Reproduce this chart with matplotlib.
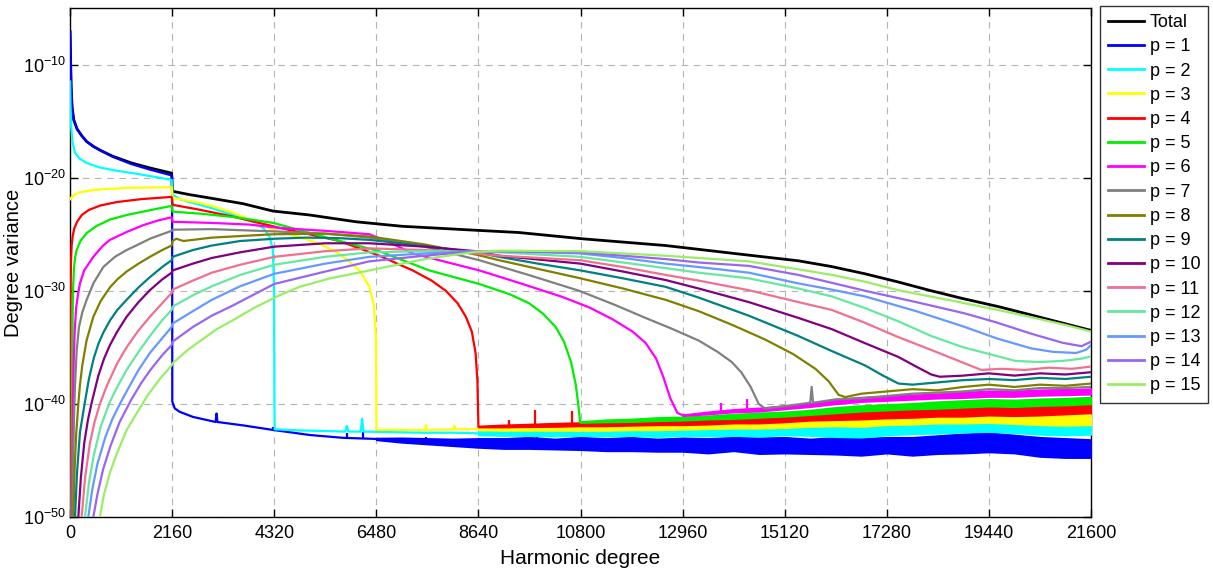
import matplotlib
matplotlib.use("Agg")
import matplotlib.pyplot as plt
import numpy as np
from matplotlib.ticker import FixedLocator, FixedFormatter, NullLocator

plt.rcParams['font.family'] = ['Liberation Sans', 'DejaVu Sans']
plt.rcParams['mathtext.fontset'] = 'custom'
plt.rcParams['mathtext.rm'] = 'Liberation Sans'
plt.rcParams['mathtext.it'] = 'Liberation Sans:italic'
plt.rcParams['mathtext.default'] = 'regular'

# ---------------------------------------------------------------------------
# Series labels and colours
LABELS = ['Total'] + ['p = %d' % k for k in range(1, 16)]
COLORS = ['#000000', '#0000ff', '#00ffff', '#ffff00', '#ff0000', '#00ee00',
          '#ff00ff', '#808080', '#808000', '#008080', '#800080', '#f07090',
          '#66e8a0', '#6699ff', '#9966ee', '#99ee66']

# Degree variance: harmonic degree and log10 of the variance
total_deg = [2, 10, 25, 45, 80, 150, 250, 350, 500, 650, 900, 1300, 1700, 2150,
             2165, 2530, 2960, 3660, 4290, 5070, 6050, 7030, 8590, 9500, 10830,
             12600, 14360, 15410, 16100, 16820, 17500, 18220, 18900, 19640, 20300,
             21040, 21600]
total_log = [-7.1, -9.0, -12.0, -13.8, -14.9, -15.7, -16.3, -16.8, -17.25, -17.6,
             -18.1, -18.7, -19.15, -19.6, -21.2, -21.5, -21.8, -22.3, -22.95, -23.3,
             -23.9, -24.3, -24.65, -24.85, -25.4, -26.0, -26.85, -27.35, -27.85,
             -28.5, -29.2, -30.0, -30.7, -31.4, -32.1, -32.9, -33.5]

p1_deg = [2, 10, 25, 45, 80, 150, 250, 350, 500, 650, 900, 1300, 1700, 2150, 2160,
          2164, 2217, 2320, 2600, 3080, 3100, 3120, 3660, 4290, 5070, 5770, 6480]
p1_log = [-7.1, -9.0, -12.0, -13.8, -14.9, -15.7, -16.3, -16.8, -17.25, -17.6,
          -18.15, -18.8, -19.3, -19.8, -19.9, -39.8, -40.4, -40.7, -41.15, -41.6,
          -40.85, -41.6, -41.9, -42.3, -42.75, -43.0, -43.1]

p2_deg = [2, 10, 25, 50, 105, 200, 350, 630, 1000, 1330, 1750, 2150, 2170, 2320,
          2700, 3000, 3300, 3660, 3900, 4100, 4220, 4290, 4315, 4325, 4330, 4900,
          5400, 5820, 5855, 5890, 6150, 6180, 6210, 6800, 7500, 8100, 8640]
p2_log = [-11.5, -13.5, -15.5, -16.8, -17.8, -18.3, -18.7, -19.1, -19.4, -19.6,
          -19.9, -20.2, -21.5, -21.9, -22.35, -22.7, -23.1, -23.55, -23.95, -24.5,
          -25.2, -26.3, -29.5, -40.0, -42.25, -42.35, -42.4, -42.45, -41.95, -42.45,
          -42.45, -41.3, -42.45, -42.5, -42.55, -42.55, -42.6]

p3_deg = [2, 40, 100, 200, 400, 600, 1200, 2150, 2170, 2600, 3000, 3450, 3900, 4300,
          4900, 5300, 5600, 5850, 6120, 6330, 6430, 6470, 6478, 6482, 7000, 7510,
          7530, 7550, 8110, 8130, 8150, 8640]
p3_log = [-21.9, -21.7, -21.5, -21.3, -21.15, -21.05, -20.9, -20.85, -21.8, -22.1,
          -22.5, -23.1, -23.9, -24.6, -25.3, -25.9, -26.5, -27.2, -28.2, -29.6,
          -31.3, -34.0, -38.0, -42.3, -42.3, -42.3, -41.9, -42.3, -42.25, -41.95,
          -42.25, -42.2]

p4_deg = [2, 5, 8, 11, 15, 22, 35, 55, 90, 150, 250, 400, 650, 1000, 1500, 2150,
          2170, 2700, 3400, 4000, 4400, 5000, 5700, 6545, 7250, 7650, 7950, 8200,
          8375, 8500, 8580, 8620, 8640]
p4_log = [-55.0, -45.0, -38.0, -32.0, -29.0, -27.3, -26.0, -25.2, -24.5, -23.9,
          -23.3, -22.85, -22.45, -22.15, -21.9, -21.7, -22.4, -22.8, -23.4, -24.0,
          -24.4, -24.95, -25.6, -26.9, -28.2, -29.1, -30.0, -31.1, -32.3, -33.6,
          -35.5, -38.0, -42.0]

p5_deg = [20, 30, 40, 48, 55, 65, 85, 110, 141, 220, 352, 550, 845, 1200, 1548,
          1900, 2150, 2170, 2800, 3500, 4300, 5000, 5700, 6545, 7600, 8660, 9300,
          9710, 10000, 10275, 10450, 10600, 10700, 10760, 10790]
p5_log = [-56.0, -50.0, -43.0, -37.0, -32.5, -29.8, -27.9, -27.0, -26.4, -25.6,
          -24.9, -24.3, -23.7, -23.3, -23.0, -22.7, -22.5, -23.0, -23.2, -23.5,
          -24.0, -24.8, -25.6, -26.5, -28.2, -29.4, -30.3, -31.1, -32.0, -33.2,
          -34.5, -36.3, -38.3, -40.3, -41.6]

p6_deg = [35, 45, 55, 65, 80, 100, 130, 170, 211, 300, 493, 700, 845, 1200, 1548,
          1850, 2150, 2170, 3000, 3800, 4434, 5400, 6334, 6800, 7250, 8000, 8660,
          9500, 10420, 11000, 11470, 11900, 12176, 12400, 12550, 12700, 12850,
          12960]
p6_log = [-56.0, -48.0, -43.0, -39.5, -36.0, -33.5, -31.5, -30.3, -29.35, -28.2,
          -27.0, -26.0, -25.5, -24.8, -24.2, -23.8, -23.5, -23.9, -24.0, -24.15,
          -24.45, -24.7, -25.0, -25.8, -26.7, -27.5, -28.2, -29.3, -30.55, -31.5,
          -32.5, -33.6, -34.6, -36.0, -37.6, -39.5, -40.8, -41.0]

p7_deg = [40, 55, 70, 84, 105, 141, 190, 260, 352, 500, 704, 950, 1197, 1450, 1689,
          1950, 2150, 2170, 3000, 4320, 5400, 6334, 7500, 8660, 9700, 10770, 11500,
          12176, 12700, 13300, 13700, 14000, 14200, 14400, 14570, 14700, 15120,
          15660, 15690, 15720, 16200, 16740, 17280, 17820, 18360, 18900, 19440,
          19980, 20520, 21060, 21600]
p7_log = [-56.0, -50.0, -44.5, -41.2, -38.5, -35.3, -33.2, -31.9, -30.8, -29.3,
          -27.9, -27.0, -26.4, -25.9, -25.4, -25.0, -24.7, -24.6, -24.55, -24.75,
          -24.95, -25.3, -26.1, -27.3, -28.6, -30.0, -31.2, -32.4, -33.3, -34.4,
          -35.4, -36.3, -37.2, -38.5, -40.0, -40.4, -40.2, -39.9, -38.5, -39.9,
          -39.6, -39.5, -39.3, -39.1, -39.0, -38.9, -38.7, -38.8, -38.6, -38.6,
          -38.5]

p8_deg = [45, 70, 100, 130, 176, 211, 260, 350, 493, 650, 845, 1000, 1197, 1450,
          1689, 1950, 2150, 2170, 2250, 2400, 3000, 4320, 5400, 6334, 7500, 8590,
          9080, 10800, 11700, 12600, 13300, 14000, 14700, 15300, 15770, 16050,
          16260, 16400, 16740, 17280, 17820, 18360, 18900, 19440, 19980, 20520,
          21060, 21600]
p8_log = [-56.0, -50.0, -45.5, -42.7, -40.0, -38.3, -36.6, -34.4, -32.3, -30.9,
          -29.7, -29.0, -28.3, -27.6, -27.0, -26.4, -26.0, -25.6, -25.4, -25.6,
          -25.3, -25.0, -24.95, -25.2, -25.9, -26.8, -27.3, -28.9, -29.8, -30.8,
          -31.8, -33.0, -34.3, -35.6, -36.9, -38.0, -39.2, -39.4, -39.1, -38.9,
          -38.7, -38.8, -38.5, -38.3, -38.5, -38.3, -38.4, -38.2]

p9_deg = [75, 106, 150, 211, 317, 400, 500, 600, 704, 850, 1000, 1197, 1450, 1689,
          1950, 2150, 2170, 2600, 3000, 3600, 4320, 5000, 5700, 6334, 7000, 7800,
          8590, 9080, 9900, 10800, 11700, 12600, 13300, 14360, 15410, 16100, 16820,
          17200, 17525, 17820, 18360, 18900, 19440, 19980, 20520, 21060, 21600]
p9_log = [-56.0, -50.0, -46.0, -42.5, -39.8, -37.8, -36.0, -34.7, -33.7, -32.6,
          -31.7, -30.8, -29.7, -28.8, -27.9, -27.3, -27.0, -26.4, -26.0, -25.6,
          -25.4, -25.3, -25.35, -25.5, -25.8, -26.2, -26.6, -27.0, -27.6, -28.2,
          -28.9, -29.65, -30.6, -32.2, -34.0, -35.3, -36.6, -37.5, -38.2, -38.3,
          -38.1, -37.9, -37.8, -37.9, -37.7, -37.8, -37.6]

p10_deg = [140, 176, 230, 300, 380, 458, 600, 720, 845, 1000, 1197, 1450, 1689,
           1950, 2150, 2170, 2600, 3000, 3600, 4320, 5400, 6334, 7500, 8590, 9080,
           10800, 11700, 12600, 13300, 14360, 15410, 16120, 16800, 17525, 17900,
           18220, 18400, 18900, 19440, 19980, 20520, 21060, 21600]
p10_log = [-56.0, -50.0, -46.5, -43.5, -41.4, -39.9, -37.5, -36.0, -34.8, -33.6,
           -32.3, -31.0, -29.95, -29.0, -28.4, -28.2, -27.6, -27.1, -26.6, -26.1,
           -25.8, -25.8, -26.1, -26.5, -26.9, -27.6, -28.3, -29.05, -29.8, -31.0,
           -32.4, -33.4, -34.6, -35.85, -36.7, -37.4, -37.6, -37.5, -37.3, -37.5,
           -37.3, -37.4, -37.2]

p11_deg = [200, 246, 320, 420, 520, 633, 750, 845, 1000, 1197, 1450, 1689, 1950,
           2150, 2170, 2600, 3000, 3600, 4320, 5400, 6334, 7500, 8590, 9080, 10800,
           11700, 12600, 13300, 14360, 15410, 16120, 16800, 17525, 18200, 18800,
           19280, 19700, 20200, 20700, 21200, 21600]
p11_log = [-56.0, -50.0, -46.5, -43.5, -41.6, -40.0, -38.7, -37.8, -36.4, -35.0,
           -33.5, -32.3, -31.1, -30.2, -29.9, -29.1, -28.4, -27.7, -27.0, -26.5,
           -26.25, -26.4, -26.7, -26.9, -27.3, -27.9, -28.6, -29.1, -29.95, -31.0,
           -31.7, -32.8, -34.1, -35.2, -36.2, -37.0, -36.9, -37.0, -36.8, -36.9,
           -36.7]

p12_deg = [270, 317, 400, 500, 650, 845, 1000, 1197, 1450, 1689, 1950, 2150, 2170,
           2600, 3000, 3600, 4320, 5400, 6334, 7500, 8590, 9080, 10800, 11700, 12600,
           13300, 14360, 15410, 16120, 16800, 17525, 18220, 18900, 19640, 20000,
           20500, 21000, 21400, 21600]
p12_log = [-56.0, -50.0, -47.0, -44.6, -42.0, -39.8, -38.5, -37.0, -35.4, -34.0,
           -32.6, -31.7, -31.4, -30.4, -29.6, -28.6, -27.7, -27.0, -26.6, -26.5,
           -26.55, -26.6, -27.0, -27.5, -28.0, -28.4, -28.9, -29.8, -30.5, -31.5,
           -32.7, -34.0, -35.0, -35.8, -36.2, -36.3, -36.2, -36.0, -35.8]

p13_deg = [340, 387, 470, 580, 750, 900, 1056, 1197, 1450, 1689, 1950, 2150, 2170,
           2600, 3000, 3600, 4320, 5400, 6334, 7500, 8590, 9080, 10800, 11700, 12600,
           13300, 14360, 15410, 16120, 16820, 17900, 18930, 19600, 20340, 20800,
           21290, 21500, 21600]
p13_log = [-56.0, -50.0, -47.6, -45.3, -42.9, -41.3, -40.0, -38.9, -37.0, -35.5,
           -34.2, -33.2, -32.9, -31.8, -30.8, -29.6, -28.5, -27.6, -27.0, -26.7,
           -26.5, -26.5, -26.7, -27.1, -27.6, -27.9, -28.4, -29.35, -29.9, -30.5,
           -31.8, -33.2, -34.2, -35.1, -35.4, -35.5, -35.2, -34.8]

p14_deg = [440, 493, 580, 700, 850, 1050, 1300, 1500, 1700, 1950, 2150, 2170, 2600,
           3000, 3446, 4320, 5400, 6334, 7500, 8590, 9080, 10800, 11700, 12600,
           13300, 14360, 15410, 16120, 16820, 17900, 18930, 19600, 20340, 21000,
           21400, 21600]
p14_log = [-56.0, -50.0, -48.0, -45.8, -43.8, -41.6, -39.6, -38.2, -37.0, -35.7,
           -34.8, -34.5, -33.2, -32.2, -31.3, -29.4, -28.3, -27.4, -26.9, -26.5,
           -26.5, -26.6, -26.9, -27.2, -27.5, -27.8, -28.6, -29.3, -30.0, -31.0,
           -32.0, -32.8, -33.8, -34.6, -34.9, -34.5]

p15_deg = [580, 633, 720, 850, 1000, 1200, 1400, 1650, 1900, 2150, 2170, 2500, 2800,
           3100, 3446, 3900, 4434, 4856, 5500, 6334, 7500, 8590, 9080, 10800, 11700,
           12600, 13300, 14360, 15410, 16120, 16820, 17525, 18200, 18930, 19636,
           20300, 21040, 21600]
p15_log = [-56.0, -50.0, -48.0, -46.0, -44.3, -42.3, -40.9, -39.2, -37.8, -36.6,
           -36.4, -35.2, -34.3, -33.4, -32.6, -31.5, -30.4, -29.65, -28.9, -28.2,
           -27.2, -26.55, -26.45, -26.5, -26.7, -26.9, -27.1, -27.4, -28.1, -28.6,
           -29.2, -29.95, -30.5, -31.1, -31.7, -32.3, -33.0, -33.6]

# Noisy floors of the lower orders: shared degree grid, centre and half width (log10)
floor_deg = [2160, 2700, 3240, 3780, 4320, 4860, 5400, 5940, 6480, 7020, 7560, 8100,
             8640, 9180, 9720, 10260, 10800, 11340, 11880, 12420, 12960, 13500,
             14040, 14580, 15120, 15660, 16200, 16740, 17280, 17820, 18360, 18900,
             19440, 19980, 20520, 21060, 21600]

p1_floor_start = 8
p1_floor_mid = [-43.1, -43.2, -43.3, -43.4, -43.45, -43.5, -43.45, -43.55, -43.5,
                -43.6, -43.55, -43.65, -43.6, -43.7, -43.55, -43.7, -43.65, -43.75,
                -43.7, -43.8, -43.65, -43.75, -43.6, -43.5, -43.4, -43.55, -43.8,
                -43.9, -43.95]
p1_floor_hw = [0.08, 0.2, 0.25, 0.3, 0.4, 0.45, 0.5, 0.45, 0.55, 0.55, 0.6, 0.55,
               0.6, 0.65, 0.6, 0.7, 0.7, 0.65, 0.75, 0.75, 0.7, 0.8, 0.8, 0.85,
               0.85, 0.8, 0.85, 0.85, 0.8]

p2_floor_start = 12
p2_floor_mid = [-42.6, -42.6, -42.55, -42.6, -42.5, -42.55, -42.5, -42.55, -42.45,
                -42.5, -42.4, -42.45, -42.35, -42.4, -42.45, -42.5, -42.3, -42.2,
                -42.1, -42.0, -41.95, -42.05, -42.2, -42.25, -42.2]
p2_floor_hw = [0.15, 0.2, 0.25, 0.25, 0.3, 0.3, 0.3, 0.35, 0.35, 0.35, 0.4, 0.4,
               0.4, 0.4, 0.45, 0.45, 0.45, 0.45, 0.5, 0.5, 0.5, 0.5, 0.5, 0.5, 0.5]

p3_floor_start = 12
p3_floor_mid = [-42.2, -42.2, -42.15, -42.15, -42.1, -42.1, -42.05, -42.0, -41.95,
                -41.9, -41.85, -41.8, -41.75, -41.65, -41.6, -41.6, -41.45, -41.4,
                -41.3, -41.25, -41.2, -41.3, -41.4, -41.45, -41.4]
p3_floor_hw = [0.1, 0.15, 0.2, 0.2, 0.25, 0.25, 0.25, 0.3, 0.3, 0.3, 0.3, 0.35,
               0.35, 0.35, 0.35, 0.4, 0.4, 0.4, 0.4, 0.45, 0.45, 0.45, 0.45, 0.45,
               0.45]

p4_floor_start = 12
p4_floor_mid = [-42.0, -41.95, -41.9, -41.85, -41.8, -41.75, -41.7, -41.65, -41.6,
                -41.55, -41.45, -41.4, -41.3, -41.15, -41.1, -41.0, -40.9, -40.85,
                -40.75, -40.7, -40.6, -40.65, -40.6, -40.5, -40.4]
p4_floor_hw = [0.05, 0.1, 0.12, 0.15, 0.15, 0.2, 0.2, 0.2, 0.25, 0.25, 0.25, 0.3,
               0.3, 0.3, 0.3, 0.35, 0.35, 0.35, 0.35, 0.4, 0.4, 0.4, 0.4, 0.4, 0.4]

p5_floor_start = 16
p5_floor_mid = [-41.6, -41.5, -41.45, -41.35, -41.3, -41.2, -41.1, -41.0, -40.9,
                -40.75, -40.55, -40.4, -40.3, -40.2, -40.1, -40.0, -39.9, -39.95,
                -39.85, -39.8, -39.7]
p5_floor_hw = [0.05, 0.1, 0.12, 0.15, 0.15, 0.15, 0.2, 0.2, 0.2, 0.2, 0.25, 0.25,
               0.25, 0.25, 0.3, 0.3, 0.3, 0.3, 0.3, 0.3, 0.3]

p6_floor_start = 20
p6_floor_mid = [-41.0, -40.8, -40.6, -40.5, -40.3, -40.1, -39.8, -39.6, -39.5,
                -39.4, -39.3, -39.2, -39.1, -39.1, -39.0, -38.95, -38.9]
p6_floor_hw = [0.05, 0.1, 0.12, 0.15, 0.15, 0.15, 0.2, 0.2, 0.2, 0.2, 0.2, 0.25,
               0.25, 0.25, 0.25, 0.25, 0.25]

# Isolated spikes on the floors: degree, base and peak (log10)
p1_spike_deg = [4300, 5860, 6190, 7540, 9870, 14200]
p1_spike_base = [-42.3, -43.0, -43.05, -43.25, -43.5, -43.6]
p1_spike_top = [-42.0, -42.6, -42.5, -42.9, -42.9, -42.7]
p4_spike_deg = [9290, 9840, 10620]
p4_spike_base = [-41.95, -41.9, -41.8]
p4_spike_top = [-41.45, -40.5, -40.6]
p6_spike_deg = [13770, 14320]
p6_spike_base = [-40.7, -40.55]
p6_spike_top = [-39.9, -39.6]

series_deg = [total_deg, p1_deg, p2_deg, p3_deg, p4_deg, p5_deg, p6_deg, p7_deg,
              p8_deg, p9_deg, p10_deg, p11_deg, p12_deg, p13_deg, p14_deg, p15_deg]
series_log = [total_log, p1_log, p2_log, p3_log, p4_log, p5_log, p6_log, p7_log,
              p8_log, p9_log, p10_log, p11_log, p12_log, p13_log, p14_log, p15_log]
floors = {
    1: (p1_floor_start, p1_floor_mid, p1_floor_hw),
    2: (p2_floor_start, p2_floor_mid, p2_floor_hw),
    3: (p3_floor_start, p3_floor_mid, p3_floor_hw),
    4: (p4_floor_start, p4_floor_mid, p4_floor_hw),
    5: (p5_floor_start, p5_floor_mid, p5_floor_hw),
    6: (p6_floor_start, p6_floor_mid, p6_floor_hw),
}
spikes = {
    1: (p1_spike_deg, p1_spike_base, p1_spike_top),
    4: (p4_spike_deg, p4_spike_base, p4_spike_top),
    6: (p6_spike_deg, p6_spike_base, p6_spike_top),
}

X_TICKS = [0, 2160, 4320, 6480, 8640, 10800, 12960, 15120, 17280, 19440, 21600]
Y_TICK_EXP = [-50, -40, -30, -20, -10]

# ---------------------------------------------------------------------------
fig = plt.figure(figsize=(12.13, 5.71), dpi=100)
ax = fig.add_axes([70 / 1213, 1 - 517 / 571, 1021 / 1213, 509 / 571])
ax.set_yscale('log')

handles = []
for i, (deg, lg) in enumerate(zip(series_deg, series_log)):
    lw = 2.0 if i == 0 else 1.6
    h, = ax.plot(deg, np.power(10.0, lg), color=COLORS[i], lw=lw,
                 label=LABELS[i], solid_joinstyle='round', zorder=2 + i)
    handles.append(h)
    if i in floors:
        start, mid, hw = floors[i]
        fx = np.array(floor_deg[start:start + len(mid)], dtype=float)
        mid = np.array(mid)
        hw = np.array(hw)
        ax.fill_between(fx, 10.0 ** (mid - hw), 10.0 ** (mid + hw),
                        color=COLORS[i], lw=1.2, ec=COLORS[i], zorder=2 + i)
        # join the smooth part of the curve to its floor
        ax.plot([deg[-1], fx[0]], [10.0 ** lg[-1], 10.0 ** mid[0]],
                color=COLORS[i], lw=1.6, zorder=2 + i)
    if i in spikes:
        sd, sb, st = spikes[i]
        ax.vlines(sd, np.power(10.0, sb), np.power(10.0, st), color=COLORS[i],
                  lw=1.6, zorder=2 + i)

ax.set_xlim(0, 21600)
ax.set_ylim(1e-50, 10 ** -5.0)

ax.xaxis.set_major_locator(FixedLocator(X_TICKS))
ax.set_xticklabels([str(t) for t in X_TICKS])
ax.yaxis.set_major_locator(FixedLocator([10.0 ** e for e in Y_TICK_EXP]))
ax.yaxis.set_major_formatter(FixedFormatter(['$10^{%d}$' % e for e in Y_TICK_EXP]))
ax.yaxis.set_minor_locator(NullLocator())
ax.xaxis.set_minor_locator(NullLocator())

ax.tick_params(axis='both', which='major', direction='in', length=6, width=1,
               top=True, right=True, labelsize=13)
ax.tick_params(axis='x', pad=6)
ax.tick_params(axis='y', pad=2.5)
for sp in ax.spines.values():
    sp.set_linewidth(1.0)
    sp.set_color('black')

ax.grid(True, which='major', color='#b4b4b4', linestyle=(0, (6, 5)), linewidth=0.8)
ax.set_axisbelow(True)

ax.set_xlabel('Harmonic degree', fontsize=15, labelpad=5)
ax.set_ylabel('Degree variance', fontsize=14.5, va='center')
ax.yaxis.set_label_coords(-0.0555, 0.5)

leg = fig.legend(handles=handles, loc='upper left',
                 bbox_to_anchor=(1100 / 1213, 1 - 6 / 571),
                 bbox_transform=fig.transFigure, fontsize=13, frameon=True,
                 fancybox=False, edgecolor='#333333', framealpha=1,
                 handlelength=2.0, handletextpad=0.3, labelspacing=0.4,
                 borderpad=0.45, borderaxespad=0)
leg.get_frame().set_linewidth(1.0)
for line in leg.get_lines():
    line.set_linewidth(2.0)

fig.savefig('out.png', dpi=100)
